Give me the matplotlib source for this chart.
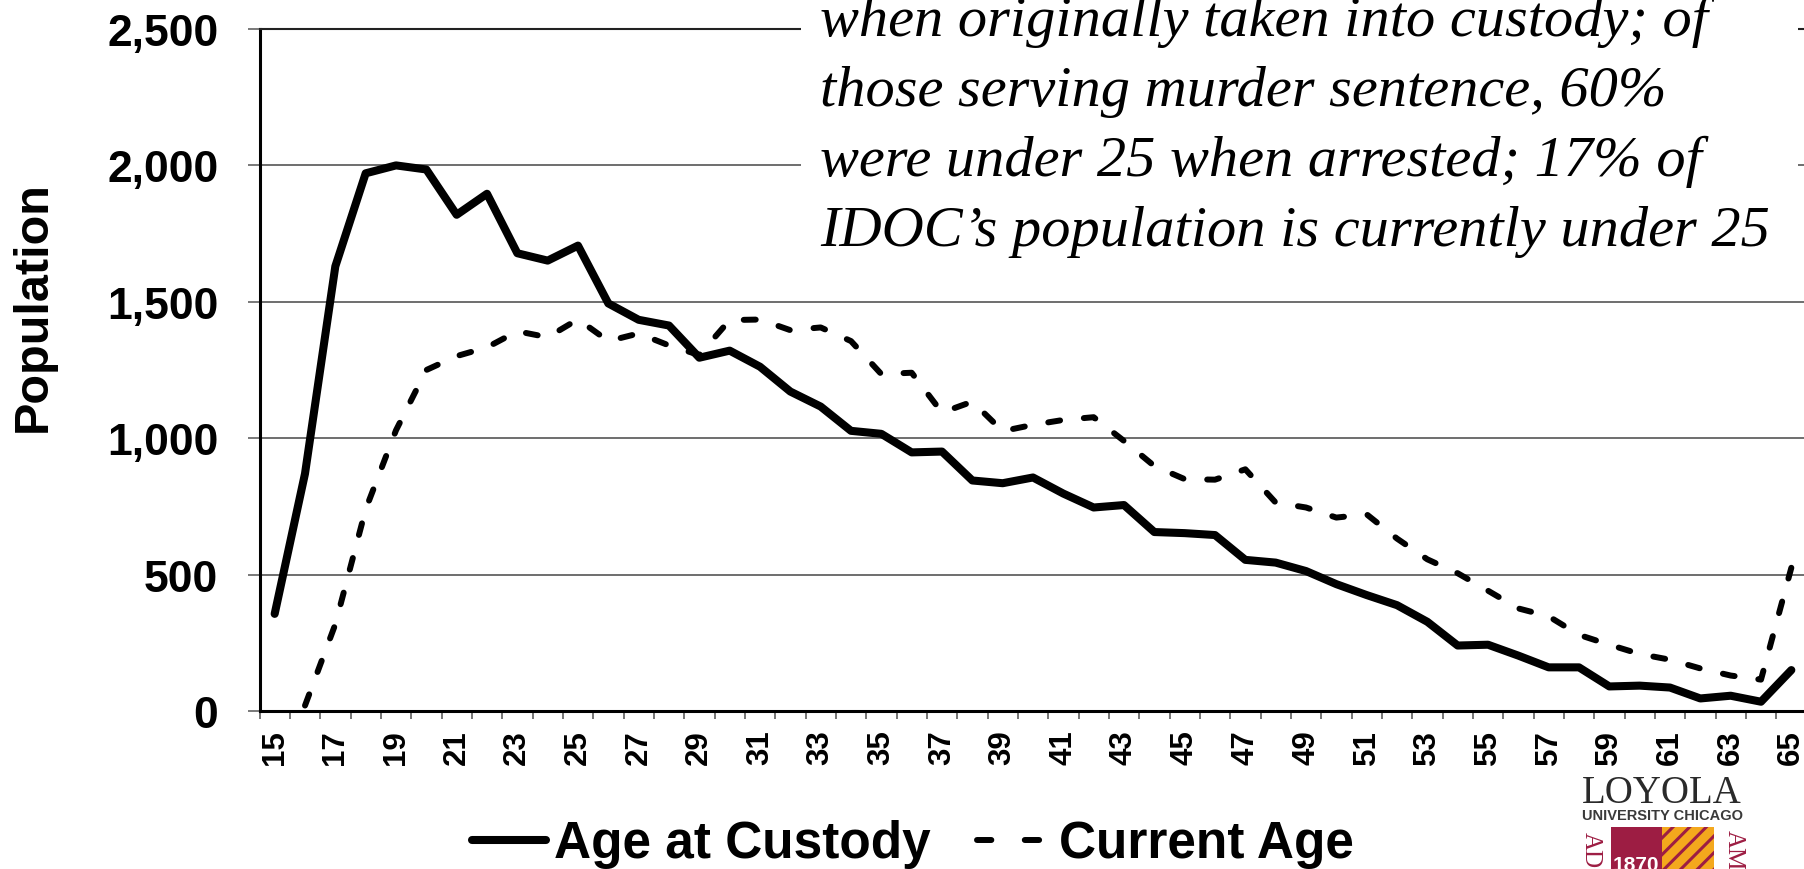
import numpy as np
import matplotlib
import matplotlib.pyplot as plt
from matplotlib.lines import Line2D
from matplotlib.patches import Rectangle

matplotlib.use("Agg")

W, H = 1804, 870

ages = list(range(15, 66))
age_at_custody = [356, 870, 1630, 1971, 2000, 1985, 1819, 1896, 1678, 1651,
                  1706, 1494, 1434, 1413, 1295, 1321, 1262, 1171, 1116, 1027,
                  1016, 948, 951, 845, 835, 856, 797, 746, 755, 656,
                  652, 645, 554, 544, 513, 465, 425, 388, 327, 240,
                  243, 203, 160, 160, 90, 93, 86, 46, 56, 34, 150]
current_age = [np.nan, 20, 318, 739, 1029, 1250, 1301, 1333, 1392, 1370,
               1436, 1356, 1384, 1340, 1305, 1433, 1435, 1396, 1406, 1356,
               1235, 1240, 1094, 1134, 1026, 1049, 1067, 1077, 990, 898,
               850, 848, 886, 764, 746, 709, 721, 632, 556, 505,
               441, 376, 347, 279, 243, 209, 188, 156, 130, 115, 525]
y_ticks = [0, 500, 1000, 1500, 2000, 2500]
note_lines = [
    "when originally taken into custody; of",
    "those serving murder sentence, 60%",
    "were under 25 when arrested; 17% of",
    "IDOC\u2019s population is currently under 25",
]

plt.rcParams["font.family"] = ["Liberation Sans", "DejaVu Sans"]
plt.rcParams["hatch.linewidth"] = 2.2


def fx(px):
    return px / W


def fy(py):
    return 1 - py / H


fig = plt.figure(figsize=(W / 100, H / 100), dpi=100)
ax = fig.add_axes([fx(259.5), fy(712), (1806.5 - 259.5) / W, (712 - 30) / H])

x = np.arange(len(ages))
solid, = ax.plot(x, age_at_custody, color="black", lw=5.8, solid_joinstyle="round",
                 solid_capstyle="round", zorder=3)
ax.plot(x, current_age, color="black", lw=4.3, dashes=(2.0, 4.0),
        dash_capstyle="round", dash_joinstyle="round", zorder=3)

ax.set_xlim(-0.5, len(ages) - 0.5)
ax.set_ylim(0, 2500)
ax.set_yticks(y_ticks)
ax.set_yticklabels([f"{v:,}" for v in y_ticks], fontweight="bold", fontsize=32)
ax.set_xticks(x[::2])
ax.set_xticklabels([str(a) for a in ages[::2]], rotation=90, fontweight="bold",
                   fontsize=22.5)
ax.set_xticks(np.arange(-0.5, len(ages), 1), minor=True)

ax.tick_params(axis="y", length=8.6, width=1.1, color="#555555", pad=21)
ax.tick_params(axis="x", which="major", length=0, pad=13)
ax.tick_params(axis="x", which="minor", length=6, width=1.1, color="#505050")
ax.yaxis.grid(True, color="#555555", lw=1.2)
ax.set_axisbelow(True)
ax.spines["right"].set_visible(False)
ax.spines["top"].set_linewidth(1.5)
ax.spines["top"].set_color("#222222")
for side in ("left", "bottom"):
    ax.spines[side].set_linewidth(2.2)
    ax.spines[side].set_color("black")

fig.text(fx(33), fy(307), "Population", rotation=90, ha="center", va="center",
         fontsize=35, fontweight="bold")

# legend handle for the dashed series: two dashes, as on the slide
dash_handle = Line2D([], [], color="black", lw=4.3, dashes=(2.4, 5.6),
                     dash_capstyle="round")
leg = ax.legend([solid, dash_handle], ["Age at Custody", "Current Age"],
                loc="center", bbox_to_anchor=(fx(913), fy(845)),
                bbox_transform=fig.transFigure, ncol=2, frameon=False,
                prop={"weight": "bold", "size": 37}, handlelength=1.45,
                handletextpad=0.15, columnspacing=0.9, borderpad=0)

# white note box over the plot, as on the slide
fig.add_artist(Rectangle((fx(801), fy(262)), fx(1798) - fx(801), fy(0) - fy(262),
                         transform=fig.transFigure, facecolor="white",
                         edgecolor="none", zorder=5))
for k, line in enumerate(note_lines):
    fig.text(fx(820), fy(36 + 70 * k), line, ha="left", va="baseline",
             fontfamily="Liberation Serif", fontstyle="italic", fontsize=42,
             zorder=6)

# logo
maroon = "#9D1D43"
gold = "#F4A81D"
fig.text(fx(1662), fy(803), "LOYOLA", ha="center", va="baseline",
         fontfamily="Liberation Serif", fontsize=28, color="#2a2a2a")
fig.text(fx(1662), fy(820), "UNIVERSITY CHICAGO", ha="center", va="baseline",
         fontsize=10.5, fontweight="bold", color="#3a3a3a")
fig.add_artist(Rectangle((fx(1611), fy(872)), fx(1662) - fx(1611), fy(828) - fy(872),
                         transform=fig.transFigure, facecolor=maroon,
                         edgecolor="none", zorder=5))
fig.add_artist(Rectangle((fx(1662), fy(872)), fx(1714) - fx(1662), fy(828) - fy(872),
                         transform=fig.transFigure, facecolor=gold,
                         edgecolor=maroon, lw=0, hatch="//", zorder=5))
fig.text(fx(1636), fy(871), "1870", ha="center", va="baseline", fontsize=15,
         fontweight="bold", color="white", zorder=6)
fig.text(fx(1591), fy(850), "AD", rotation=-90, ha="center", va="center",
         fontfamily="Liberation Serif", fontsize=18, color=maroon)
fig.text(fx(1734), fy(850), "AM", rotation=-90, ha="center", va="center",
         fontfamily="Liberation Serif", fontsize=18, color=maroon)

fig.savefig("out.png", dpi=100)
plt.close(fig)
